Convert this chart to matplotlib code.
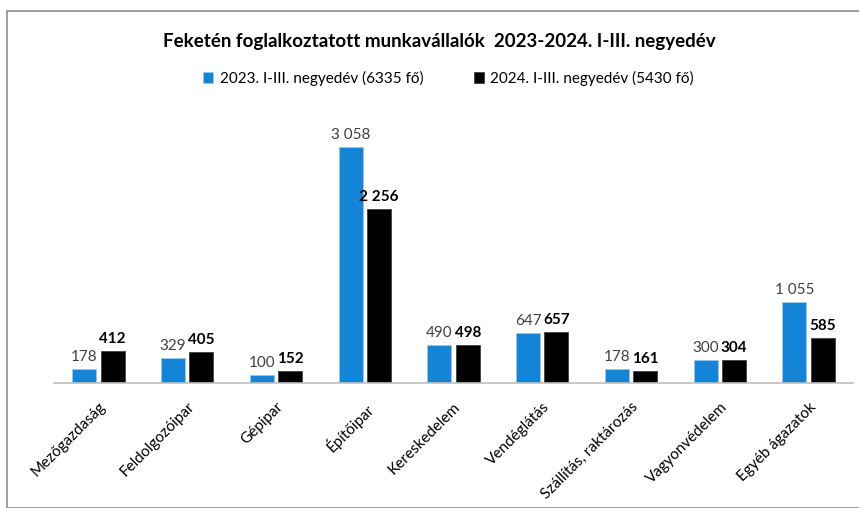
import matplotlib
matplotlib.use("Agg")
import matplotlib.pyplot as plt
import numpy as np

categories = ["Mezőgazdaság", "Feldolgozóipar", "Gépipar", "Építőipar", "Kereskedelem",
              "Vendéglátás", "Szállítás, raktározás", "Vagyonvédelem", "Egyéb ágazatok"]
values_2023 = [178, 329, 100, 3058, 490, 647, 178, 300, 1055]
values_2024 = [412, 405, 152, 2256, 498, 657, 161, 304, 585]
series_names = ["2023. I-III. negyedév (6335 fő)", "2024. I-III. negyedév (5430 fő)"]
title = "Feketén foglalkoztatott munkavállalók  2023-2024. I-III. negyedév"

plt.rcParams['font.family'] = ['Lato', 'DejaVu Sans']

W, H = 859, 508
fig = plt.figure(figsize=(W/100, H/100), dpi=100)

# frame
fig.patches.append(plt.Rectangle((7/W, 0), (W-7)/W + 0.01, (H-11)/H, transform=fig.transFigure,
                                 fill=False, edgecolor="#8c8c8c", linewidth=1.2, clip_on=False))

left, right = 54/W, 853/W
base_px = 383
top_px = 110
ax = fig.add_axes([left, (H-base_px)/H, right-left, (base_px-top_px)/H])
scale = (383-147)/3058.0
ymax = (base_px-top_px)/scale
ax.set_ylim(0, ymax)
n = len(categories)
x = np.arange(n)
ax.set_xlim(-0.5, n-0.5)
bw = 0.27
gap = 0.025
blue = "#1484d6"
b1 = ax.bar(x - bw/2 - gap, values_2023, bw, color=blue, edgecolor="#9cc8ee", linewidth=0.6, label=series_names[0])
b2 = ax.bar(x + bw/2 + gap, values_2024, bw, color="#000000", edgecolor="#404040", linewidth=0.6, label=series_names[1])

def fmt(v):
    return f"{v:,}".replace(",", " ")

for xi, v in zip(x, values_2023):
    ax.text(xi - bw/2 - gap, v + 5/scale, fmt(v), ha="center", va="bottom",
            fontsize=11, color="#404040")
for xi, v in zip(x, values_2024):
    ax.text(xi + bw/2 + gap, v + 5/scale, fmt(v), ha="center", va="bottom",
            fontsize=11, color="#000000", fontweight="bold")

for s in ["top", "right", "left"]:
    ax.spines[s].set_visible(False)
ax.spines["bottom"].set_color("#bfbfbf")
ax.spines["bottom"].set_linewidth(1.2)
ax.set_yticks([])
ax.set_xticks(x)
ax.set_xticklabels(categories, rotation=45, ha="right", rotation_mode="anchor", fontsize=11, color="#000000")
ax.tick_params(axis="x", length=0, pad=12)

fig.text(0.511, 1 - 42/H, title, ha="center", va="center", fontsize=13.5, fontweight="bold")
fig.legend(handles=[b1, b2], labels=series_names, loc="center", bbox_to_anchor=(0.522, 1 - 78/H),
           ncol=2, frameon=False, fontsize=11, handlelength=0.7, handleheight=0.7,
           columnspacing=3.3, handletextpad=0.4)

fig.savefig("out.png", dpi=100)
